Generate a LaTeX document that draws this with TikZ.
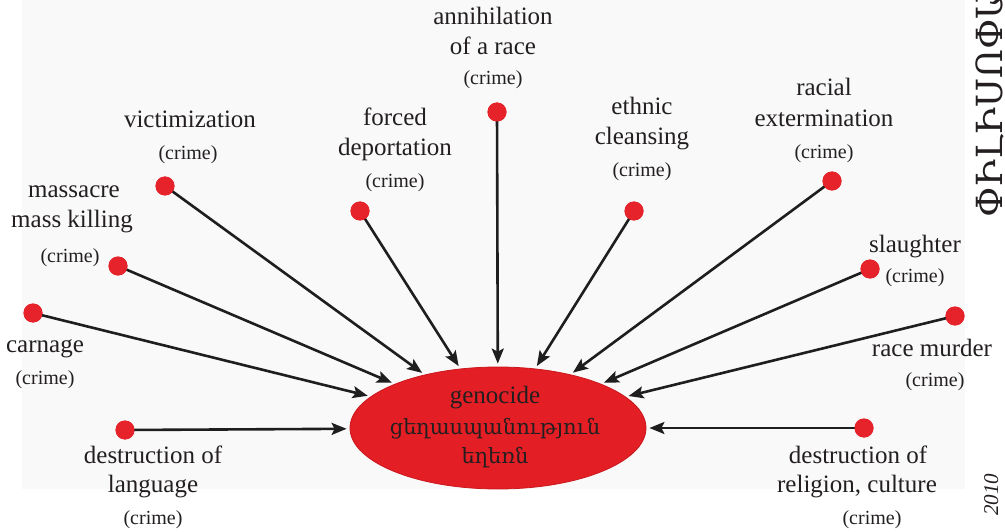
\documentclass[tikz,border=0pt]{standalone}
\usepackage{fontspec}
\setmainfont{Liberation Serif}
\newfontfamily\armfont{DejaVu Serif}
\usetikzlibrary{arrows.meta,shapes.geometric}
\definecolor{dotred}{HTML}{E6232A}
\definecolor{genred}{HTML}{E31E24}
\definecolor{genedge}{HTML}{C9181E}
\definecolor{ink}{HTML}{231F20}
\definecolor{lineink}{HTML}{1E1E1E}
\definecolor{paper}{HTML}{F9F9F9}
\tikzset{
  dot/.style={circle,fill=dotred,minimum size=19pt,inner sep=0pt},
  lbl/.style={font=\fontsize{25}{30}\selectfont,text=ink,inner sep=0pt,anchor=base},
  crime/.style={font=\fontsize{20}{24}\selectfont,text=ink,inner sep=0pt,anchor=base},
  gen/.style={ellipse,fill=genred,draw=genedge,line width=0.8pt,minimum width=296pt,minimum height=122pt,inner sep=0pt},
  gtext/.style={text=ink,inner sep=0pt,anchor=base},
  arr/.style={draw=lineink,line width=2.6pt,-{Stealth[length=15pt,width=12pt,inset=3pt]},shorten >=3pt}
}
\begin{document}
\begin{tikzpicture}[x=1pt,y=-1pt]
\useasboundingbox (0,0) rectangle (1005,532);
\fill[paper] (22,0) rectangle (965,489);

% central ellipse
\node[gen] (g) at (498,428) {};
\node[gtext,font=\fontsize{25}{30}\selectfont] (g1) at (495,403) {genocide};
\node[gtext,font=\armfont\fontsize{21}{28}\selectfont] (g2) at (495,434) {ցեղասպանություն};
\node[gtext,font=\armfont\fontsize{21}{28}\selectfont] (g3) at (495,463) {եղեռն};

% dots
\node[dot] (dAnn) at (497,112) {};
\node[dot] (dVic) at (165,186) {};
\node[dot] (dFor) at (360,211) {};
\node[dot] (dEth) at (634,211) {};
\node[dot] (dRac) at (832,181) {};
\node[dot] (dSla) at (870,269) {};
\node[dot] (dRmu) at (955,316) {};
\node[dot] (dMas) at (118,266) {};
\node[dot] (dCar) at (33,313) {};
\node[dot] (dLan) at (125,430) {};
\node[dot] (dRel) at (864,428) {};

% connectors
\foreach \s in {dAnn,dVic,dFor,dEth,dRac,dSla,dRmu,dMas,dCar,dLan,dRel}
  \draw[arr] (\s.center) -- (g);
\foreach \s in {dAnn,dVic,dFor,dEth,dRac,dSla,dRmu,dMas,dCar,dLan,dRel}
  \node[dot] at (\s) {};

% labels
\node[lbl] (tAnn1) at (493,25) {annihilation};
\node[lbl] (tAnn2) at (493,55) {of a race};
\node[crime] (cAnn) at (493,85) {(crime)};

\node[lbl] (tVic1) at (190,128) {victimization};
\node[crime] (cVic) at (188,160) {(crime)};

\node[lbl] (tFor1) at (395,126) {forced};
\node[lbl] (tFor2) at (395,156) {deportation};
\node[crime] (cFor) at (395,188) {(crime)};

\node[lbl] (tEth1) at (642,115) {ethnic};
\node[lbl] (tEth2) at (642,145) {cleansing};
\node[crime] (cEth) at (642,177) {(crime)};

\node[lbl] (tRac1) at (824,96) {racial};
\node[lbl] (tRac2) at (824,127) {extermination};
\node[crime] (cRac) at (824,159) {(crime)};

\node[lbl] (tSla1) at (915,252) {slaughter};
\node[crime] (cSla) at (915,283) {(crime)};

\node[lbl] (tRmu1) at (932,356) {race murder};
\node[crime] (cRmu) at (935,386) {(crime)};

\node[lbl] (tMas1) at (74,198) {massacre};
\node[lbl] (tMas2) at (72,228) {mass killing};
\node[crime] (cMas) at (70,262) {(crime)};

\node[lbl] (tCar1) at (45,352) {carnage};
\node[crime] (cCar) at (45,384) {(crime)};

\node[lbl] (tLan1) at (153,463) {destruction of};
\node[lbl] (tLan2) at (153,492) {language};
\node[crime] (cLan) at (153,524) {(crime)};

\node[lbl] (tRel1) at (858,463) {destruction of};
\node[lbl] (tRel2) at (857,492) {religion, culture};
\node[crime] (cRel) at (872,524) {(crime)};

% page-edge texts
\node[rotate=90,anchor=base west,inner sep=0pt,text=ink,font=\armfont\fontsize{36}{36}\selectfont] (hdr) at (1002,218) {ՓԻԼԻՍՈՓԱՅՈՒԹՅՈՒՆ};
\node[rotate=90,anchor=base west,inner sep=0pt,text=ink,font=\itshape\fontsize{21}{21}\selectfont] (yr) at (998,516) {2010};
\end{tikzpicture}
\end{document}
